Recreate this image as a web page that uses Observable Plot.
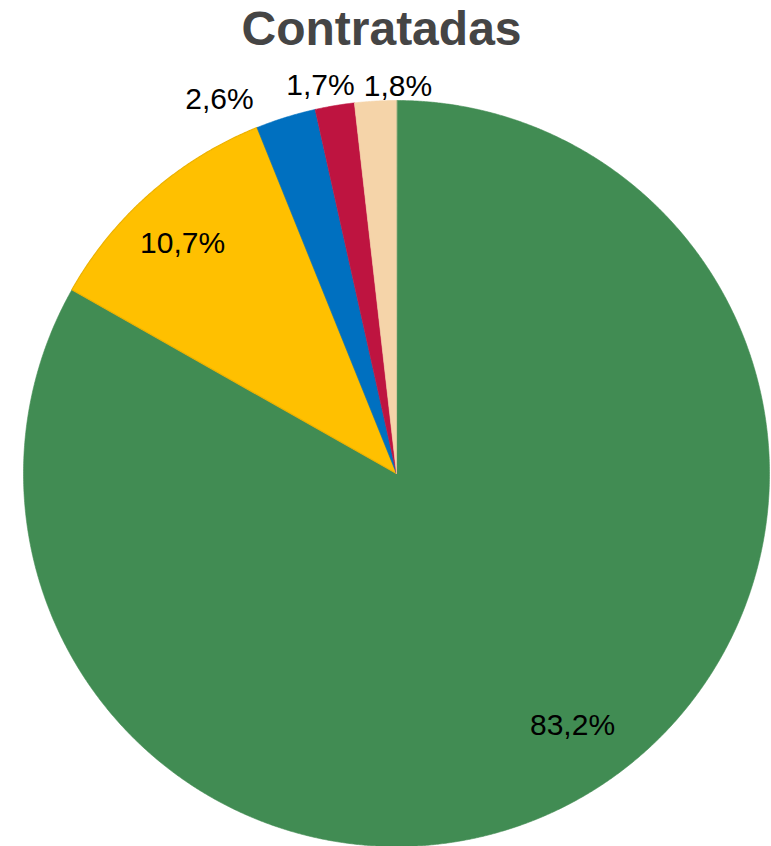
<!DOCTYPE html>
<html>
<head>
<meta charset="utf-8">
<script src="https://cdn.jsdelivr.net/npm/d3@7"></script>
<script src="https://cdn.jsdelivr.net/npm/@observablehq/plot@0.6"></script>
<style>
  html, body { margin: 0; padding: 0; background: #fff; }
  #title { width: 771px; height: 60px; box-sizing: border-box; padding-top: 5px; text-align: center;
           font-family: "Liberation Sans", Arial, sans-serif; font-weight: bold; font-size: 48px;
           line-height: 1; color: #454545; padding-right: 8px; }
  #chart svg { display: block; }
</style>
</head>
<body>
<div id="title">Contratadas</div>
<div id="chart"></div>
<script>
// Data (clockwise from 12 o'clock)
const categories = ["A", "B", "C", "D", "E"];
const values = [83.2, 10.7, 2.6, 1.7, 1.8];
const labels = ["83,2%", "10,7%", "2,6%", "1,7%", "1,8%"];
const colors = ["#418C53", "#FFC000", "#0070C0", "#BE1440", "#F5D4A9"];
const strokes = ["#418C53", "#EDB200", "#0070C0", "#BE1440", "#F5D4A9"];

// Label layout (radius factor, angle nudge in degrees)
const labelRadius = [0.824, 0.842, 1.109, 1.059, 1.039];
const labelNudge = [-4.7, -1.7, -8.05, -1.56, 3.46];

const pie = d3.pie().sort(null).value(d => d)(values);

const sliceRows = pie.map((p, i) => {
  const pts = [{x: 0, y: 0}];
  const n = Math.max(4, Math.ceil((p.endAngle - p.startAngle) / (Math.PI / 720)));
  for (let k = 0; k <= n; k++) {
    const a = p.startAngle + (p.endAngle - p.startAngle) * k / n;
    pts.push({x: Math.sin(a), y: Math.cos(a)});
  }
  return pts;
});

const labelRows = pie.map((p, i) => {
  const a = (p.startAngle + p.endAngle) / 2 + labelNudge[i] * Math.PI / 180;
  return {x: labelRadius[i] * Math.sin(a), y: labelRadius[i] * Math.cos(a), text: labels[i]};
});

const marks = sliceRows.map((rows, i) =>
  Plot.line(rows, {x: "x", y: "y", curve: "linear-closed", fill: colors[i],
                   stroke: strokes[i], strokeWidth: i === 1 ? 1.2 : 0.6})
);
marks.push(Plot.text(labelRows, {x: "x", y: "y", text: "text", fontSize: 30,
  fill: "#000", fontFamily: "Liberation Sans, Arial, sans-serif"}));

const chart = Plot.plot({
  width: 771,
  height: 786,
  margin: 0,
  x: {domain: [-1, 1], range: [23, 769], axis: null},
  y: {domain: [-1, 1], range: [786, 40], axis: null},
  style: {background: "#fff", overflow: "visible"},
  marks
});
document.getElementById("chart").appendChild(chart);
</script>
</body>
</html>
